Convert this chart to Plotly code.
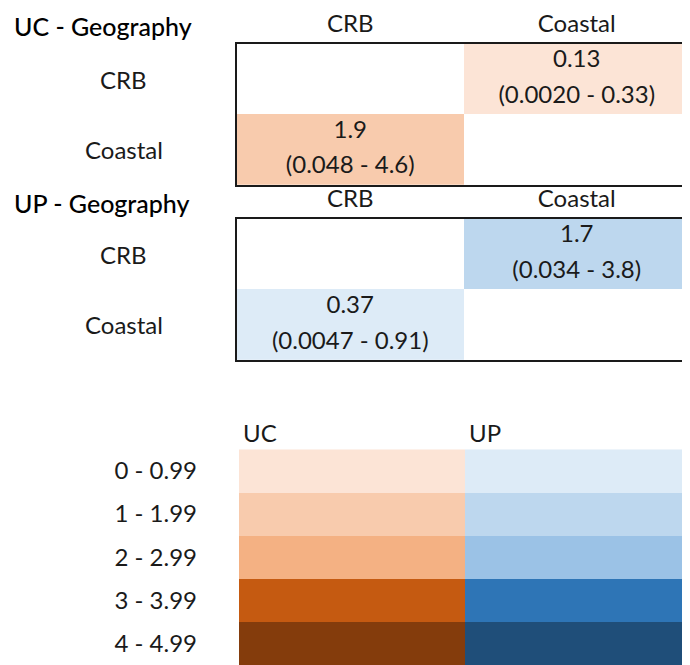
import plotly.graph_objects as go

# ---------------- data ----------------
row_labels = ["CRB", "Coastal"]
col_labels = ["CRB", "Coastal"]

uc_est = [[None, 0.13], [1.9, None]]
uc_lo = [[None, 0.0020], [0.048, None]]
uc_hi = [[None, 0.33], [4.6, None]]

up_est = [[None, 1.7], [0.37, None]]
up_lo = [[None, 0.034], [0.0047, None]]
up_hi = [[None, 3.8], [0.91, None]]

legend_groups = ["UC", "UP"]
legend_ranges = ["0 - 0.99", "1 - 1.99", "2 - 2.99", "3 - 3.99", "4 - 4.99"]
uc_colors = ["#FCE4D6", "#F8CBAD", "#F4B183", "#C55A11", "#843C0C"]
up_colors = ["#DDEBF7", "#BDD7EE", "#9BC2E6", "#2E75B6", "#1F4E79"]

# ---------------- styling ----------------
FONT = "Lato"
TXT = "#1a1a1a"
FS = 24
all_colors = uc_colors + up_colors
n = len(all_colors)
cscale = []
for i, c in enumerate(all_colors):
    cscale.append([i / n, c])
    cscale.append([(i + 1) / n, c])


def fmt(v):
    return f"{v:#.2g}".rstrip(".")


def level(v, offset):
    return None if v is None else int(v) + offset


fig = go.Figure()


def add_table(est, lo, hi, offset, xa, ya):
    z = [[level(v, offset) for v in row] for row in est]
    fig.add_trace(go.Heatmap(
        z=z, x=list(range(len(col_labels))), y=list(range(len(row_labels))),
        colorscale=cscale, zmin=-0.5, zmax=n - 0.5, showscale=False,
        hoverinfo="skip", xaxis=xa, yaxis=ya))
    xs, ys, ts = [], [], []
    for r in range(len(row_labels)):
        for c in range(len(col_labels)):
            if est[r][c] is None:
                continue
            xs += [c, c]
            ys += [r - 0.25, r + 0.25]
            ts += [fmt(est[r][c]), f"({fmt(lo[r][c])} - {fmt(hi[r][c])})"]
    fig.add_trace(go.Scatter(
        x=xs, y=ys, text=ts, mode="text",
        textfont=dict(family=FONT, size=FS, color=TXT),
        hoverinfo="skip", showlegend=False, xaxis=xa, yaxis=ya))


add_table(uc_est, uc_lo, uc_hi, 0, "x", "y")
add_table(up_est, up_lo, up_hi, len(uc_colors), "x2", "y2")

# legend block
leg_z = [[i, i + len(uc_colors)] for i in range(len(legend_ranges))]
fig.add_trace(go.Heatmap(
    z=leg_z, x=list(range(len(legend_groups))), y=list(range(len(legend_ranges))),
    colorscale=cscale, zmin=-0.5, zmax=n - 0.5, showscale=False,
    hoverinfo="skip", xaxis="x3", yaxis="y3"))

# page body has an 8px margin: figure occupies page (8..690, 8..665)
OFF = 8
W, H = 690 - OFF, 665 - OFF


def px(x):
    return (x - OFF) / W


def ydom(top, bottom):
    return [1 - (bottom - OFF) / H, 1 - (top - OFF) / H]


table_x = dict(domain=[px(237), 1], range=[-0.5, 1.5], side="top",
               tickvals=[0, 1], ticktext=col_labels, ticks="",
               tickfont=dict(family=FONT, size=FS, color=TXT),
               showline=True, mirror=True, linecolor=TXT, linewidth=2,
               showgrid=False, zeroline=False, fixedrange=True)
table_y = dict(range=[1.5, -0.5], showticklabels=False, ticks="",
               showline=True, linecolor=TXT, linewidth=2,
               showgrid=False, zeroline=False, fixedrange=True)

fig.update_layout(
    width=W, height=H, margin=dict(l=0, r=0, t=0, b=0),
    paper_bgcolor="white", plot_bgcolor="white", showlegend=False,
    xaxis=dict(table_x, anchor="y"),
    yaxis=dict(table_y, domain=ydom(37, 180), anchor="x"),
    xaxis2=dict(table_x, anchor="y2"),
    yaxis2=dict(table_y, domain=ydom(214, 357), anchor="x2"),
    xaxis3=dict(domain=[px(239), 1], range=[-0.5, 1.5], anchor="y3",
                showticklabels=False, ticks="", showline=False,
                showgrid=False, zeroline=False, fixedrange=True),
    yaxis3=dict(domain=ydom(447, 665), range=[4.5, -0.5], anchor="x3",
                tickvals=list(range(len(legend_ranges))), ticktext=legend_ranges,
                ticks="", ticklabelstandoff=41,
                tickfont=dict(family=FONT, size=FS, color=TXT),
                showline=False, showgrid=False, zeroline=False, fixedrange=True),
)

ann = []
for title, ya, yc in [("UC - Geography", "y", 19), ("UP - Geography", "y2", 198)]:
    ann.append(dict(text=title, xref="paper", yref="paper", x=px(12),
                    y=1 - (yc - OFF) / H, xanchor="left", yanchor="middle",
                    showarrow=False,
                    font=dict(family=FONT, size=25, color="#000", weight=500)))
    for i, lab in enumerate(row_labels):
        ann.append(dict(text=lab, xref="paper", yref=ya, x=px(124), y=i,
                        xanchor="center", yanchor="middle", showarrow=False,
                        font=dict(family=FONT, size=FS, color=TXT)))
for i, g in enumerate(legend_groups):
    ann.append(dict(text=g, xref="x3", yref="y3", x=i - 0.5, y=-0.5,
                    xanchor="left", yanchor="bottom", xshift=2, yshift=0,
                    showarrow=False, font=dict(family=FONT, size=FS, color=TXT)))
fig.update_layout(annotations=ann)

fig.write_html("out.html")
